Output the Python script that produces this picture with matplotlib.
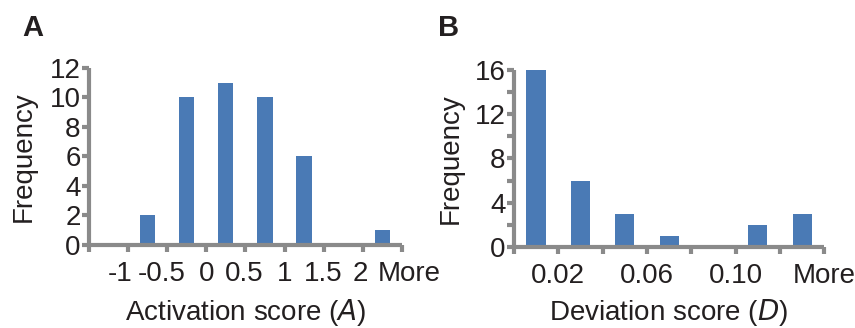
import numpy as np
import matplotlib.pyplot as plt

plt.rcParams['font.family'] = ['Liberation Sans', 'DejaVu Sans']

# panel A: activation score histogram
act_bins = ['-1', '-0.5', '0', '0.5', '1', '1.5', '2', 'More']
act_freq = [0, 2, 10, 11, 10, 6, 0, 1]
act_label_pos = [0.3, 1.37, 2.5, 3.47, 4.5, 5.5, 6.45, 7.7]

# panel B: deviation score histogram
dev_freq = [16, 6, 3, 1, 0, 2, 3]
dev_labels = ['0.02', '0.06', '0.10', 'More']
dev_label_pos = [0.5, 2.5, 4.5, 6.5]

bar_color = '#4a7ab5'
axis_color = '#8a8a8a'
text_color = '#231f20'
fs = 20

fig = plt.figure(figsize=(8.55, 3.28), dpi=100)
axA = fig.add_axes([0.104, 0.253, 0.366, 0.54])
axB = fig.add_axes([0.601, 0.247, 0.363, 0.54])


def style(ax):
    for s in ['top', 'right']:
        ax.spines[s].set_visible(False)
    for s in ['left', 'bottom']:
        ax.spines[s].set_color(axis_color)
        ax.spines[s].set_linewidth(3)
        ax.spines[s].set_capstyle('butt')
    ax.tick_params(which='both', direction='out', color=axis_color,
                   width=3, length=5, labelsize=fs, labelcolor=text_color)
    ax.tick_params(axis='y', pad=1)


# A
xa = np.arange(len(act_freq))
axA.bar(xa, act_freq, width=0.39, color=bar_color)
axA.set_xlim(-0.5, len(act_freq) - 0.5)
axA.set_ylim(0, 12)
axA.set_yticks(np.arange(0, 13, 2))
axA.set_xticks(np.arange(-0.5, len(act_freq) + 0.5, 1))
axA.set_xticklabels([])
style(axA)
for p, t in zip(act_label_pos, act_bins):
    axA.text(p, -0.165, t, transform=axA.get_xaxis_transform(),
             ha='center', va='center', fontsize=fs, color=text_color,
             clip_on=False)
axA.set_ylabel('Frequency', fontsize=fs, color=text_color, labelpad=9)
axA.set_xlabel('Activation score ($\\mathit{A}$)', fontsize=fs, color=text_color)
axA.xaxis.set_label_coords(0.5, -0.295)
fig.text(0.026, 0.915, 'A', fontsize=21, fontweight='bold', color=text_color, ha='left', va='center')

# B
xb = np.arange(len(dev_freq))
axB.bar(xb, dev_freq, width=0.43, color=bar_color)
axB.set_xlim(-0.5, len(dev_freq) - 0.5)
axB.set_ylim(0, 16)
axB.set_yticks(np.arange(0, 17, 4))
axB.set_yticks(np.arange(0, 17, 2), minor=True)
axB.set_xticks(np.arange(-0.5, len(dev_freq) + 0.5, 1))
axB.set_xticklabels([])
style(axB)
for p, t in zip(dev_label_pos, dev_labels):
    axB.text(p, -0.165, t, transform=axB.get_xaxis_transform(),
             ha='center', va='center', fontsize=fs, color=text_color,
             clip_on=False)
axB.set_ylabel('Frequency', fontsize=fs, color=text_color, labelpad=8)
axB.set_xlabel('Deviation score ($\\mathit{D}$)', fontsize=fs, color=text_color)
axB.xaxis.set_label_coords(0.5, -0.285)
fig.text(0.512, 0.915, 'B', fontsize=21, fontweight='bold', color=text_color, ha='left', va='center')

fig.savefig('out.png', dpi=100)
